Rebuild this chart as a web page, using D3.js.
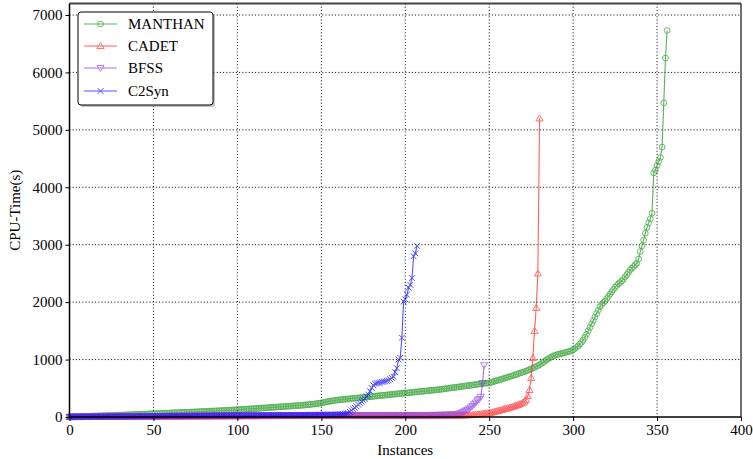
<!DOCTYPE html>
<html>
<head>
<meta charset="utf-8">
<script src="https://cdn.jsdelivr.net/npm/d3@7"></script>
<style>
html,body{margin:0;padding:0;background:#fff;}
svg{display:block;}
text{font-family:"Liberation Serif","Times New Roman",serif;}
</style>
</head>
<body>
<svg id="chart" width="753" height="459"></svg>
<script>
// ---------------- DATA ----------------
const seriesNames = ["MANTHAN", "CADET", "BFSS", "C2Syn"];
const xTicks = [0, 50, 100, 150, 200, 250, 300, 350, 400];
const yTicks = [0, 1000, 2000, 3000, 4000, 5000, 6000, 7000];

const manthan = [
2,3,4,5,6,7,8,9,10,11,
12,13,14,15,16,17,18,19,20,21,
22,23,24,25,26,27,28,30,31,32,
33,34,35,36,38,39,40,41,42,44,
45,46,47,48,50,51,52,53,55,56,
57,58,60,61,62,63,65,66,67,68,
70,71,72,74,75,76,78,79,80,82,
83,84,86,87,88,90,91,92,94,95,
96,98,99,100,102,103,105,106,107,109,
110,112,113,115,116,118,119,121,122,124,
126,128,130,132,134,136,138,140,142,144,
146,148,150,152,154,156,158,160,162,164,
166,168,170,172,174,176,178,180,182,184,
186,188,190,193,195,197,199,201,203,205,
208,211,214,217,220,224,228,232,236,240,
245,250,256,262,268,274,279,284,288,292,
296,300,303,306,309,312,315,318,321,324,
327,330,333,336,339,342,345,348,351,354,
357,360,363,366,369,372,375,378,381,384,
387,390,393,396,399,402,405,408,411,414,
417,420,423,426,429,432,435,438,441,444,
447,450,453,456,459,462,465,468,471,474,
477,481,485,489,493,497,501,505,509,513,
517,521,525,529,533,537,541,545,549,553,
557,561,565,569,573,577,581,585,589,591,
593,602,611,620,629,638,647,656,665,674,
683,692,701,710,720,730,740,750,760,770,
780,790,800,812,824,836,850,865,880,895,
910,930,950,970,990,1010,1030,1045,1060,1072,
1082,1090,1098,1105,1112,1120,1128,1136,1145,1155,
1170,1190,1215,1240,1270,1300,1340,1390,1440,1500,
1560,1620,1680,1740,1800,1860,1920,1960,1990,2020,
2060,2100,2140,2180,2220,2260,2290,2320,2340,2370,
2400,2440,2480,2520,2560,2590,2620,2650,2680,2750,
2880,2980,3080,3200,
3300,3380,3450,3550,4250,4300,4380,4450,4520,4700,5470,6250,6730
];

const cadet = [
1,1,1,2,2,2,2,2,3,3,
3,3,3,3,4,4,4,4,4,4,
5,5,5,5,5,5,6,6,6,6,
6,6,7,7,7,7,7,7,8,8,
8,8,8,8,8,9,9,9,9,9,
9,9,10,10,10,10,10,10,10,11,
11,11,11,11,11,11,11,12,12,12,
12,12,12,12,12,13,13,13,13,13,
13,13,13,13,14,14,14,14,14,14,
14,14,14,15,15,15,15,15,15,15,
15,15,15,16,16,16,16,16,16,16,
16,16,16,16,17,17,17,17,17,17,
17,17,17,17,17,18,18,18,18,18,
18,18,18,18,18,18,18,19,19,19,
19,19,19,19,19,19,19,19,20,20,
20,20,20,20,20,20,20,20,20,21,
21,21,21,21,21,21,21,21,21,21,
22,22,22,22,22,22,22,22,22,22,
22,23,23,23,23,23,23,23,23,23,
23,23,24,24,24,24,24,24,24,24,
24,24,24,25,25,25,25,25,25,25,
25,25,25,26,26,26,26,26,26,26,
26,26,27,27,27,27,27,27,28,28,
28,28,29,29,29,
30,31,32,33,34,36,38,41,45,49,
53,57,61,65,68,72,77,83,90,98,
106,115,123,131,139,147,155,163,172,180,
190,200,210,222,235,
250,270,300,365,470,680,1030,1500,1900,2500,5200
];

const bfss = [
3,3,4,4,4,5,5,5,5,6,
6,6,6,7,7,7,7,8,8,8,
8,9,9,9,9,10,10,10,10,11,
11,11,11,12,12,12,12,13,13,13,
13,13,14,14,14,14,15,15,15,15,
15,16,16,16,16,16,17,17,17,17,
17,18,18,18,18,18,18,19,19,19,
19,19,19,20,20,20,20,20,20,21,
21,21,21,21,21,21,22,22,22,22,
22,22,22,22,23,23,23,23,23,23,
23,23,24,24,24,24,24,24,24,24,
24,25,25,25,25,25,25,25,25,25,
25,26,26,26,26,26,26,26,26,26,
26,26,27,27,27,27,27,27,27,27,
27,27,27,28,28,28,28,28,28,28,
28,28,28,28,29,29,29,29,29,29,
29,29,29,29,29,30,30,30,30,30,
30,30,30,30,30,30,31,31,31,31,
31,31,31,31,31,31,31,32,32,32,
32,32,32,32,32,32,32,32,33,33,
33,33,33,33,33,33,33,33,33,34,
34,34,34,34,34,35,35,35,35,36,
36,37,37,38,38,39,40,41,42,44,
48,52,58,65,80,95,110,125,145,165,
190,220,250,290,310,350,590,900
];

const c2syn = [
2,2,2,3,3,3,3,4,4,4,
4,5,5,5,5,6,6,6,6,7,
7,7,7,8,8,8,8,9,9,9,
9,10,10,10,10,11,11,11,11,12,
12,12,12,13,13,13,13,14,14,14,
14,15,15,15,15,16,16,16,16,17,
17,17,17,18,18,18,18,19,19,19,
19,20,20,20,20,21,21,21,21,22,
22,22,22,23,23,23,23,24,24,24,
24,25,25,25,25,26,26,26,26,27,
27,27,27,28,28,28,28,29,29,29,
29,30,30,30,30,31,31,31,31,32,
32,32,32,33,33,33,33,34,34,34,
34,35,35,35,35,36,36,36,36,37,
37,37,38,38,38,39,39,39,40,40,
40,41,41,42,42,43,43,44,44,45,
46,48,50,53,57,62,70,90,115,140,
160,185,215,240,270,290,320,360,390,450,
505,550,580,590,595,600,610,615,620,630,
640,660,680,700,780,850,1000,1030,1380,2010,
2050,2130,2250,2300,2420,2800,2850,2980
];

// ---------------- CHART ----------------
const svg = d3.select("#chart");
const L = 69.5, R = 741, T = 3.5, B = 417;
const x = d3.scaleLinear().domain([0, 400]).range([L, R]);
const y = d3.scaleLinear().domain([0, 7200]).range([B, T]);

const colors = {
  MANTHAN: "#229922",
  CADET: "#ff2a2a",
  BFSS: "#9040e6",
  C2Syn: "#1a1aff"
};
const dataMap = { MANTHAN: manthan, CADET: cadet, BFSS: bfss, C2Syn: c2syn };

// grid
const grid = svg.append("g");
grid.selectAll("line.gx").data(xTicks.filter(d => d > 0 && d < 400)).enter().append("line")
  .attr("x1", d => x(d)).attr("x2", d => x(d)).attr("y1", T).attr("y2", B)
  .attr("stroke", "#000").attr("stroke-width", 1).attr("stroke-dasharray", "1,2.2");
grid.selectAll("line.gy").data(yTicks.filter(d => d > 0)).enter().append("line")
  .attr("y1", d => y(d)).attr("y2", d => y(d)).attr("x1", L).attr("x2", R)
  .attr("stroke", "#000").attr("stroke-width", 1).attr("stroke-dasharray", "1,2.2");

// frame (top/right)
svg.append("line").attr("x1", L).attr("x2", R).attr("y1", T).attr("y2", T)
  .attr("stroke", "#444").attr("stroke-width", 2);
svg.append("line").attr("x1", R).attr("x2", R).attr("y1", T).attr("y2", B)
  .attr("stroke", "#111").attr("stroke-width", 1.2);

// series
const line = d3.line().x((d, i) => x(i)).y(d => y(d));
const marks = svg.append("g");

function drawMarker(g, name, px, py) {
  const c = colors[name];
  if (name === "MANTHAN") {
    g.append("circle").attr("cx", px).attr("cy", py).attr("r", 2.9)
      .attr("fill", "none").attr("stroke", c).attr("stroke-width", 0.9);
  } else if (name === "CADET") {
    const s = 3.4;
    g.append("path").attr("d", `M${px},${py - s}L${px + s * 1.05},${py + s * 0.75}L${px - s * 1.05},${py + s * 0.75}Z`)
      .attr("fill", "none").attr("stroke", c).attr("stroke-width", 0.9);
  } else if (name === "BFSS") {
    const s = 3.4;
    g.append("path").attr("d", `M${px},${py + s}L${px + s * 1.05},${py - s * 0.75}L${px - s * 1.05},${py - s * 0.75}Z`)
      .attr("fill", "none").attr("stroke", c).attr("stroke-width", 0.9);
  } else {
    const s = 2.9;
    g.append("path").attr("d", `M${px - s},${py - s}L${px + s},${py + s}M${px - s},${py + s}L${px + s},${py - s}`)
      .attr("fill", "none").attr("stroke", c).attr("stroke-width", 1);
  }
}

seriesNames.forEach(name => {
  const vals = dataMap[name];
  const g = marks.append("g").attr("opacity", 0.75);
  g.append("path").datum(vals).attr("d", line)
    .attr("fill", "none").attr("stroke", colors[name]).attr("stroke-width", 1.1);
  vals.forEach((v, i) => drawMarker(g, name, x(i), y(v)));
});

// axes
const xAxis = d3.axisBottom(x).tickValues(xTicks).tickSize(4).tickPadding(3).tickFormat(d3.format("d"));
const yAxis = d3.axisLeft(y).tickValues(yTicks).tickSize(4).tickPadding(3).tickFormat(d3.format("d"));
const gx = svg.append("g").attr("transform", `translate(0,${B})`).call(xAxis);
const gy = svg.append("g").attr("transform", `translate(${L},0)`).call(yAxis);
[gx, gy].forEach(g => {
  g.select(".domain").attr("stroke", "#000").attr("stroke-width", 1.5);
  g.selectAll(".tick line").attr("stroke", "#000").attr("stroke-width", 1);
  g.selectAll(".tick text").attr("font-size", 15).attr("fill", "#000")
    .attr("font-family", "'Liberation Serif','Times New Roman',serif");
});
gx.select(".domain").attr("d", `M${L},0H${R}`);
gy.select(".domain").attr("d", `M0,${B}V${T}`);

// axis titles
svg.append("text").attr("x", (L + R) / 2).attr("y", 455).attr("text-anchor", "middle")
  .attr("font-size", 15).text("Instances");
svg.append("text").attr("transform", `translate(20,${(T + B) / 2}) rotate(-90)`)
  .attr("text-anchor", "middle").attr("font-size", 15).text("CPU-Time(s)");

// legend
const lg = svg.append("g");
lg.append("rect").attr("x", 80).attr("y", 14).attr("width", 135).attr("height", 93).attr("rx", 3)
  .attr("fill", "#999").attr("opacity", 0.6);
lg.append("rect").attr("x", 78).attr("y", 12).attr("width", 135).attr("height", 93).attr("rx", 3)
  .attr("fill", "#fff").attr("stroke", "#000").attr("stroke-width", 1);
const rowsY = [24, 46, 68, 91];
seriesNames.forEach((name, i) => {
  const gy2 = rowsY[i];
  const g = lg.append("g").attr("opacity", 0.75);
  g.append("line").attr("x1", 84).attr("x2", 117).attr("y1", gy2).attr("y2", gy2)
    .attr("stroke", colors[name]).attr("stroke-width", 1.2);
  drawMarker(g, name, 100.5, gy2);
  lg.append("text").attr("x", 128).attr("y", gy2 + 5).attr("font-size", 15).text(name);
});
</script>
</body>
</html>
